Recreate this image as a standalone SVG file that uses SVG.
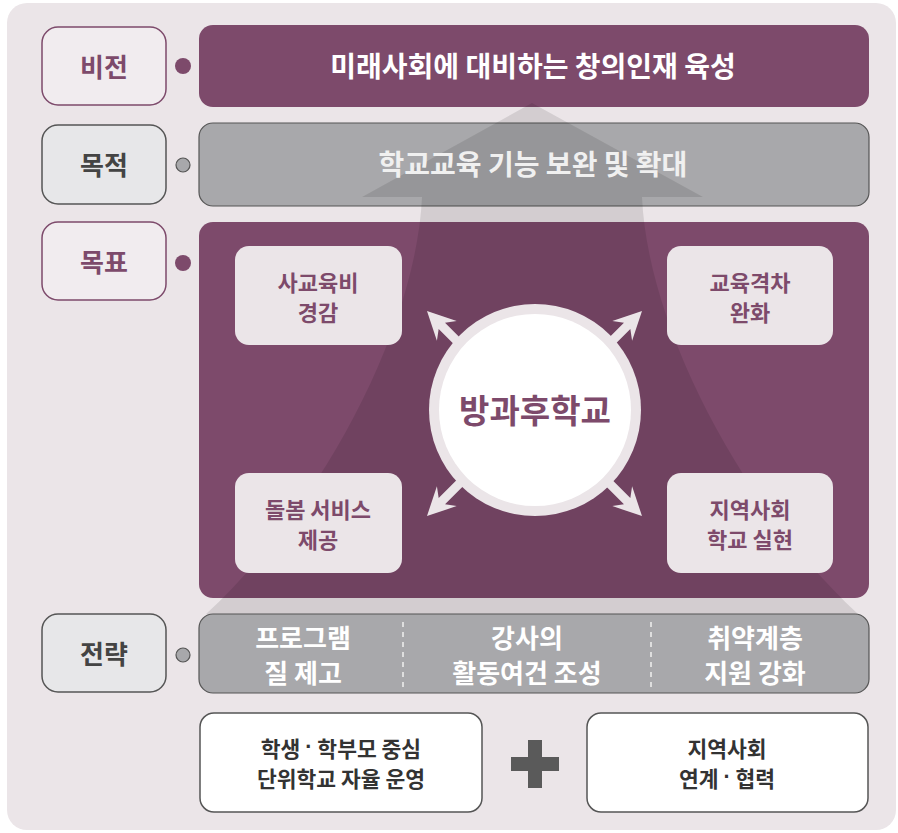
<svg xmlns="http://www.w3.org/2000/svg" width="898" height="833" viewBox="0 0 898 833">
<defs>
<style>
text{font-family:"Noto Sans CJK KR","Noto Sans",sans-serif;font-weight:700;text-anchor:middle;dominant-baseline:central}
.lblP{fill:#f1ecef;stroke:#7d4a6b;stroke-width:1.5}
.lblG{fill:#e7e7e9;stroke:#555;stroke-width:1.5}
.tP{fill:#7d4a6b;font-size:26px}
.tG{fill:#444;font-size:26px}
.goal{fill:#ebe5e8}
.tGoal{fill:#7d4a6b;font-size:22px}
.tW{fill:#fff;font-size:26px}
.wbox{fill:#fff;stroke:#555;stroke-width:1.5}
.tD{fill:#333;font-size:21.5px}
.dot{font-family:"Liberation Sans",sans-serif}
.arr{fill:#ebe5e8}
</style>
</defs>
<rect x="7" y="3" width="889" height="827" rx="20" fill="#ebe5e8"/>

<g id="vision">
<rect class="lblP" x="42" y="27" width="124" height="78" rx="16"/>
<text class="tP" x="104" y="65">비전</text>
<circle cx="183" cy="66" r="8" fill="#7d4a6b"/>
<rect x="199" y="25" width="670" height="82" rx="14" fill="#7d4a6b"/>
<text x="533" y="65" fill="#fff" font-size="28">미래사회에 대비하는 창의인재 육성</text>
</g>

<g id="purpose-bar">
<rect class="lblG" x="42" y="125" width="124" height="79" rx="16"/>
<text class="tG" x="104" y="163">목적</text>
<circle cx="183" cy="165" r="7" fill="#a8a8ab" stroke="#555" stroke-width="1.2"/>
<rect x="199" y="123" width="670" height="83" rx="14" fill="#a8a8ab" stroke="#555" stroke-width="1.2"/>
</g>

<g id="goal-area">
<rect class="lblP" x="42" y="222" width="124" height="78" rx="16"/>
<text class="tP" x="104" y="260">목표</text>
<circle cx="183" cy="263" r="8" fill="#7d4a6b"/>
<rect x="199" y="222" width="670" height="376" rx="14" fill="#7d4a6b"/>
</g>

<path id="big-arrow" d="M532,103 L703,197 L642,197 C648,330 745,510 858,614 L206,614 C319,510 416,330 422,197 L362,197 Z" fill="#000" fill-opacity="0.1"/>

<g id="purpose-text">
<text x="533" y="163" fill="#f0f0f0" font-size="28">학교교육 기능 보완 및 확대</text>
</g>

<g id="strategy">
<rect class="lblG" x="42" y="614" width="124" height="78" rx="16"/>
<text class="tG" x="104" y="652">전략</text>
<circle cx="183" cy="655" r="7" fill="#a8a8ab" stroke="#555" stroke-width="1.2"/>
<rect x="199" y="614" width="670" height="79" rx="14" fill="#a8a8ab" stroke="#555" stroke-width="1.2"/>
<line x1="403" y1="622" x2="403" y2="687" stroke="#f0f0f0" stroke-width="1.5" stroke-dasharray="5,5"/>
<line x1="651" y1="622" x2="651" y2="687" stroke="#f0f0f0" stroke-width="1.5" stroke-dasharray="5,5"/>
<text class="tW" x="303" y="636">프로그램</text>
<text class="tW" x="303" y="671">질 제고</text>
<text class="tW" x="527" y="636">강사의</text>
<text class="tW" x="527" y="671">활동여건 조성</text>
<text class="tW" x="755" y="636">취약계층</text>
<text class="tW" x="755" y="671">지원 강화</text>
</g>

<g id="goal-1">
<rect class="goal" x="235" y="246" width="167" height="99" rx="14"/>
<text class="tGoal" x="318" y="281">사교육비</text>
<text class="tGoal" x="318" y="311">경감</text>
</g>
<g id="goal-2">
<rect class="goal" x="667" y="246" width="166" height="99" rx="14"/>
<text class="tGoal" x="750" y="281">교육격차</text>
<text class="tGoal" x="750" y="311">완화</text>
</g>
<g id="goal-3">
<rect class="goal" x="235" y="473" width="167" height="100" rx="14"/>
<text class="tGoal" x="318" y="508">돌봄 서비스</text>
<text class="tGoal" x="318" y="538">제공</text>
</g>
<g id="goal-4">
<rect class="goal" x="667" y="473" width="166" height="100" rx="14"/>
<text class="tGoal" x="750" y="508">지역사회</text>
<text class="tGoal" x="750" y="538">학교 실현</text>
</g>

<g id="connectors">
<path class="arr" transform="translate(427,311) rotate(-135)" d="M0,0 L-28,-14 L-21,-4.5 L-50,-4.5 L-50,4.5 L-21,4.5 L-28,14 Z"/>
<path class="arr" transform="translate(642,311) rotate(-45)" d="M0,0 L-28,-14 L-21,-4.5 L-50,-4.5 L-50,4.5 L-21,4.5 L-28,14 Z"/>
<path class="arr" transform="translate(427,516) rotate(135)" d="M0,0 L-28,-14 L-21,-4.5 L-50,-4.5 L-50,4.5 L-21,4.5 L-28,14 Z"/>
<path class="arr" transform="translate(642,516) rotate(45)" d="M0,0 L-28,-14 L-21,-4.5 L-50,-4.5 L-50,4.5 L-21,4.5 L-28,14 Z"/>
</g>

<g id="center">
<circle cx="535" cy="410" r="106" fill="#ebe5e8"/>
<circle cx="535" cy="410" r="96" fill="#fff"/>
<text x="535" y="409" fill="#7d4a6b" font-size="33">방과후학교</text>
</g>

<g id="base-left">
<rect class="wbox" x="200" y="713" width="282" height="99" rx="14"/>
<text class="tD" x="341" y="747">학생 <tspan class="dot">·</tspan> 학부모 중심</text>
<text class="tD" x="341" y="777">단위학교 자율 운영</text>
</g>
<g id="plus">
<rect x="528" y="740" width="14" height="48" fill="#5a5a5a"/>
<rect x="511" y="757" width="48" height="14" fill="#5a5a5a"/>
</g>
<g id="base-right">
<rect class="wbox" x="587" y="713" width="281" height="99" rx="14"/>
<text class="tD" x="727" y="747">지역사회</text>
<text class="tD" x="727" y="777">연계 <tspan class="dot">·</tspan> 협력</text>
</g>
</svg>
